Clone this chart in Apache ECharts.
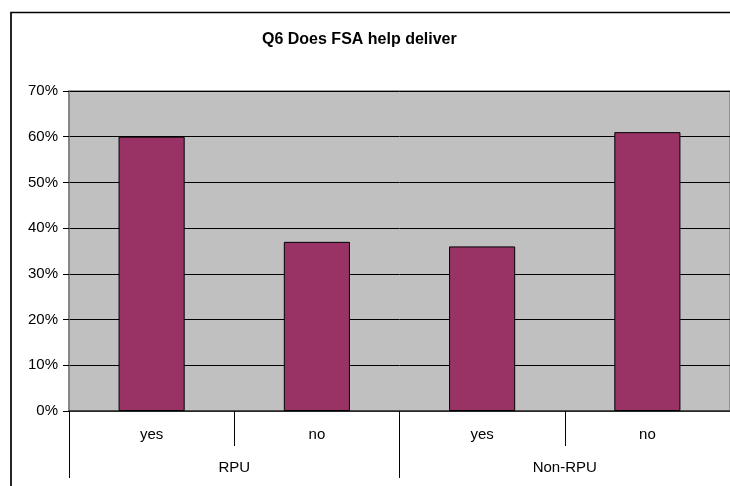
<!DOCTYPE html>
<html>
<head>
<meta charset="utf-8">
<script src="https://cdn.jsdelivr.net/npm/echarts@6/dist/echarts.min.js"></script>
<style>
  html, body { margin: 0; padding: 0; background: #fff; }
  #chart { width: 730px; height: 486px; }
</style>
</head>
<body>
<div id="chart"></div>
<script>
// Survey answers split by respondent group
const titleText = 'Q6 Does FSA help deliver';
const answers = ['yes', 'no', 'yes', 'no'];
const groups = ['RPU', 'Non-RPU'];
const shares = [0.60, 0.37, 0.36, 0.61];
const yTicks = { min: 0, max: 0.7, step: 0.1 };

const FONT = '"Liberation Sans", Arial, sans-serif';

const chart = echarts.init(document.getElementById('chart'), null, { renderer: 'canvas' });

chart.setOption({
  animation: false,
  backgroundColor: '#ffffff',
  textStyle: { fontFamily: FONT },
  graphic: [
    {
      // chart frame, running off the right and bottom edges
      type: 'rect',
      shape: { x: 11, y: 12.5, width: 800, height: 600 },
      style: { fill: 'none', stroke: '#000', lineWidth: 1.7 },
      silent: true
    },
    {
      type: 'text',
      left: 262, top: 32,
      style: {
        text: titleText,
        font: 'bold 16px ' + FONT,
        fill: '#000'
      }
    }
  ],
  grid: {
    left: 69, top: 91, right: -3, bottom: 75,
    show: true,
    backgroundColor: '#C0C0C0',
    borderColor: '#808080',
    borderWidth: 1.5
  },
  xAxis: [
    {
      type: 'category',
      data: answers,
      position: 'bottom',
      axisLine: { show: true, lineStyle: { color: '#333', width: 1.5 } },
      axisTick: { show: true, interval: 0, length: 35, lineStyle: { color: '#000', width: 1 } },
      axisLabel: { interval: 0, margin: 16, color: '#000', fontSize: 15, fontFamily: FONT },
      splitLine: { show: false }
    },
    {
      type: 'category',
      data: groups,
      position: 'bottom',
      axisLine: { show: false },
      axisTick: { show: true, interval: 0, length: 67, lineStyle: { color: '#000', width: 1 } },
      axisLabel: { interval: 0, margin: 49, color: '#000', fontSize: 15, fontFamily: FONT },
      splitLine: { show: false }
    }
  ],
  yAxis: {
    type: 'value',
    min: yTicks.min,
    max: yTicks.max,
    interval: yTicks.step,
    axisLine: { show: true, lineStyle: { color: '#808080', width: 1.5 } },
    axisTick: { show: true, length: 6, lineStyle: { color: '#000' } },
    axisLabel: {
      margin: 11,
      color: '#000',
      fontSize: 15,
      fontFamily: FONT,
      formatter: v => Math.round(v * 100) + '%'
    },
    splitLine: { show: true, lineStyle: { color: '#000', width: 1 } }
  },
  series: [
    {
      type: 'bar',
      xAxisIndex: 0,
      data: shares,
      barWidth: '40%',
      itemStyle: { color: '#993366', borderColor: '#000', borderWidth: 1 }
    }
  ]
});
</script>
</body>
</html>
